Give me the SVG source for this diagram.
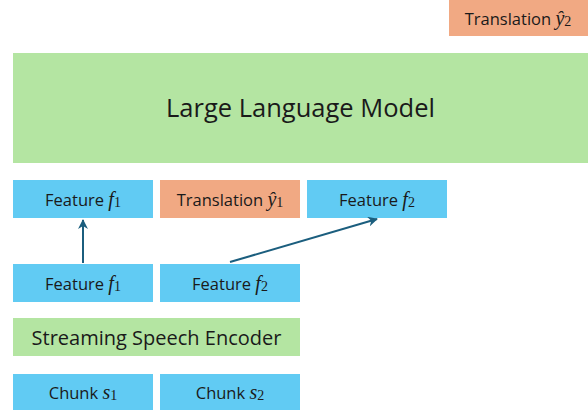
<svg xmlns="http://www.w3.org/2000/svg" width="588" height="410" viewBox="0 0 588 410">
  <style>
    .blue { fill: #61CBF3; }
    .green { fill: #B4E5A2; }
    .orange { fill: #F1A983; }
    .lbl { font-family: "Open Sans", "Liberation Sans", sans-serif; font-size: 16.5px; fill: #1a1a1a; text-anchor: middle; dominant-baseline: central; }
    .math { font-family: "Liberation Serif", "DejaVu Serif", serif; font-style: italic; font-size: 20px; }
    .sub { font-family: "Liberation Serif", "DejaVu Serif", serif; font-style: normal; font-size: 14px; }
    .big { font-size: 25.5px; }
    .mid { font-size: 20px; }
    .conn { stroke: #1B5E7E; stroke-width: 2; fill: none; marker-end: url(#head); }
  </style>
  <defs>
    <marker id="head" viewBox="0 0 10 10" refX="9" refY="5" markerWidth="5" markerHeight="5" orient="auto" markerUnits="strokeWidth">
      <path d="M0,0 L10,5 L0,10 L3,5 z" fill="#1B5E7E"/>
    </marker>
  </defs>

  <g id="translation-y2">
    <rect class="orange" x="449" y="0" width="139" height="36"/>
    <text class="lbl" x="518" y="18">Translation <tspan class="math">ŷ</tspan><tspan class="sub" dy="3">2</tspan></text>
  </g>

  <g id="llm">
    <rect class="green" x="13" y="53" width="575" height="110"/>
    <text class="lbl big" x="300.5" y="107">Large Language Model</text>
  </g>

  <g id="feature-f1-top">
    <rect class="blue" x="13" y="180" width="140" height="38"/>
    <text class="lbl" x="83" y="199">Feature <tspan class="math">f</tspan><tspan class="sub" dy="3">1</tspan></text>
  </g>

  <g id="translation-y1">
    <rect class="orange" x="160" y="180" width="140" height="38"/>
    <text class="lbl" x="230" y="199">Translation <tspan class="math">ŷ</tspan><tspan class="sub" dy="3">1</tspan></text>
  </g>

  <g id="feature-f2-top">
    <rect class="blue" x="307" y="180" width="140" height="38"/>
    <text class="lbl" x="377" y="199">Feature <tspan class="math">f</tspan><tspan class="sub" dy="3">2</tspan></text>
  </g>

  <g id="feature-f1">
    <rect class="blue" x="13" y="264" width="140" height="38"/>
    <text class="lbl" x="83" y="283">Feature <tspan class="math">f</tspan><tspan class="sub" dy="3">1</tspan></text>
  </g>

  <g id="feature-f2">
    <rect class="blue" x="160" y="264" width="140" height="38"/>
    <text class="lbl" x="230" y="283">Feature <tspan class="math">f</tspan><tspan class="sub" dy="3">2</tspan></text>
  </g>

  <g id="encoder">
    <rect class="green" x="13" y="318" width="287" height="38"/>
    <text class="lbl mid" x="156.5" y="337">Streaming Speech Encoder</text>
  </g>

  <g id="chunk-s1">
    <rect class="blue" x="13" y="374" width="140" height="36"/>
    <text class="lbl" x="83" y="392">Chunk <tspan class="math">s</tspan><tspan class="sub" dy="3">1</tspan></text>
  </g>

  <g id="chunk-s2">
    <rect class="blue" x="160" y="374" width="140" height="36"/>
    <text class="lbl" x="230" y="392">Chunk <tspan class="math">s</tspan><tspan class="sub" dy="3">2</tspan></text>
  </g>

  <g id="connectors">
    <line class="conn" x1="83" y1="263" x2="83" y2="220"/>
    <line class="conn" x1="230" y1="262" x2="377" y2="219"/>
  </g>
</svg>
